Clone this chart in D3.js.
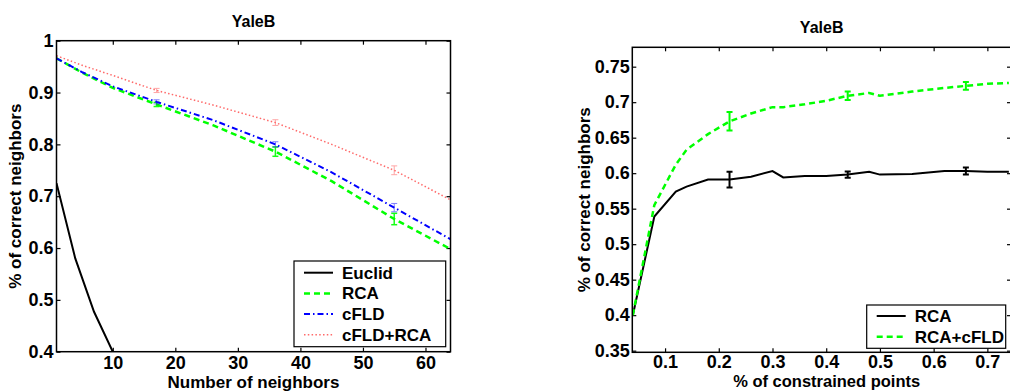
<!DOCTYPE html>
<html>
<head>
<meta charset="utf-8">
<script src="https://cdn.jsdelivr.net/npm/d3@7"></script>
<style>
  body { margin: 0; background: #fff; }
  text { font-family: "Liberation Sans", Arial, sans-serif; font-weight: bold; }
</style>
</head>
<body>
<svg id="chart" width="1010" height="391"></svg>
<script>
// left panel: accuracy vs number of neighbors
var nb_x      = [1, 5, 10, 17, 26, 36, 45, 55, 64];
var euclid_x  = [1, 4, 7, 10, 13];
var euclid_y  = [0.725, 0.58, 0.477, 0.40, 0.34];
var rca_y     = [0.966, 0.939, 0.909, 0.877, 0.837, 0.786, 0.729, 0.656, 0.598];
var cfld_y    = [0.966, 0.940, 0.912, 0.882, 0.847, 0.800, 0.746, 0.678, 0.617];
var both_y    = [0.971, 0.953, 0.933, 0.904, 0.876, 0.842, 0.800, 0.750, 0.693];
var err_x     = [17, 36, 55];
var rca_err   = [0.004, 0.009, 0.011];
var cfld_err  = [0.004, 0.005, 0.008];
var both_err  = [0.004, 0.0055, 0.0085];
var left_xticks = [10, 20, 30, 40, 50, 60];
var left_yticks = [0.4, 0.5, 0.6, 0.7, 0.8, 0.9, 1];

// right panel: accuracy vs fraction of constrained points
var cp_x      = [0.04, 0.08, 0.12, 0.14, 0.18, 0.22, 0.26, 0.30, 0.32, 0.36, 0.40, 0.44, 0.48, 0.50, 0.56, 0.62, 0.66, 0.70, 0.74];
var rca2_y    = [0.40, 0.539, 0.574, 0.581, 0.591, 0.591, 0.595, 0.603, 0.594, 0.596, 0.596, 0.598, 0.602, 0.598, 0.599, 0.603, 0.603, 0.602, 0.602];
var rcafld_y  = [0.40, 0.555, 0.612, 0.633, 0.655, 0.673, 0.684, 0.693, 0.693, 0.697, 0.702, 0.709, 0.713, 0.709, 0.715, 0.720, 0.723, 0.726, 0.727];
var err2_x    = [0.22, 0.44, 0.66];
var rca2_err  = [0.011, 0.0045, 0.005];
var rcafld_err = [0.013, 0.006, 0.0055];
var right_xticks = [0.1, 0.2, 0.3, 0.4, 0.5, 0.6, 0.7];
var right_yticks = [0.35, 0.4, 0.45, 0.5, 0.55, 0.6, 0.65, 0.7, 0.75];

var svg = d3.select('#chart');

var styles = {
  black: {color: '#000000', width: 2,   dash: null},
  green: {color: '#00ff00', width: 2.5, dash: '6,4'},
  blue:  {color: '#0000ff', width: 2,   dash: '6,3,1.5,3'},
  red:   {color: '#ff6a6a', width: 1.5, dash: '1.5,2.3'}
};

function fmt(v) { return String(+v.toFixed(2)); }

function panel(o) {
  var x = d3.scaleLinear().domain(o.xdom).range([o.left, o.right]);
  var y = d3.scaleLinear().domain(o.ydom).range([o.bottom, o.top]);
  var g = svg.append('g');

  var clipId = 'clip' + o.id;
  g.append('clipPath').attr('id', clipId)
    .append('rect')
      .attr('x', o.left).attr('y', o.top)
      .attr('width', o.right - o.left).attr('height', o.bottom - o.top);

  // ticks on all four sides, pointing inwards
  var ax = [
    [d3.axisBottom(x).tickValues(o.xticks).tickFormat(fmt).tickPadding(o.xpad), 'translate(0,' + o.bottom + ')'],
    [d3.axisTop(x).tickValues(o.xticks).tickFormat(''), 'translate(0,' + o.top + ')'],
    [d3.axisLeft(y).tickValues(o.yticks).tickFormat(fmt).tickPadding(o.ypad), 'translate(' + o.left + ',0)'],
    [d3.axisRight(y).tickValues(o.yticks).tickFormat(''), 'translate(' + o.right + ',0)']
  ];
  ax.forEach(function(a) {
    var ag = g.append('g').attr('transform', a[1])
      .call(a[0].tickSizeInner(-4).tickSizeOuter(0));
    ag.select('.domain').remove();
    ag.selectAll('line').attr('stroke', '#000').attr('stroke-width', 1.2);
    ag.selectAll('text').style('font-size', '18px').attr('fill', '#000')
      .style('font-family', '"Liberation Sans", Arial, sans-serif').style('font-weight', 'bold');
  });

  var line = d3.line().x(function(d) { return x(d[0]); }).y(function(d) { return y(d[1]); });
  var plot = g.append('g').attr('clip-path', 'url(#' + clipId + ')');

  o.series.forEach(function(s) {
    var st = styles[s.style];
    var pts = s.x.map(function(v, i) { return [v, s.y[i]]; });
    plot.append('path')
      .attr('d', line(pts))
      .attr('fill', 'none')
      .attr('stroke', st.color)
      .attr('stroke-width', st.width)
      .attr('stroke-dasharray', st.dash);

    if (s.ex) {
      s.ex.forEach(function(xv, i) {
        // centre of the bar
        var j = d3.bisectLeft(s.x, xv), yc;
        if (s.x[j] === xv) yc = s.y[j];
        else {
          var t = (xv - s.x[j - 1]) / (s.x[j] - s.x[j - 1]);
          yc = s.y[j - 1] + t * (s.y[j] - s.y[j - 1]);
        }
        var y1 = y(yc - s.e[i]), y2 = y(yc + s.e[i]), xp = x(xv);
        var eg = plot.append('g')
          .attr('stroke', st.color)
          .attr('stroke-width', s.ew)
          .attr('opacity', s.eo);
        eg.append('line').attr('x1', xp).attr('x2', xp).attr('y1', y1).attr('y2', y2);
        eg.append('line').attr('x1', xp - 3).attr('x2', xp + 3).attr('y1', y1).attr('y2', y1);
        eg.append('line').attr('x1', xp - 3).attr('x2', xp + 3).attr('y1', y2).attr('y2', y2);
      });
    }
  });

  g.append('rect')
    .attr('x', o.left).attr('y', o.top)
    .attr('width', o.right - o.left).attr('height', o.bottom - o.top)
    .attr('fill', 'none').attr('stroke', '#000').attr('stroke-width', 1.5);

  g.append('text')
    .attr('x', (o.left + o.right) / 2).attr('y', o.titleY)
    .attr('text-anchor', 'middle').style('font-size', '16px')
    .text(o.title);

  g.append('text')
    .attr('x', o.xlabX).attr('y', o.xlabY)
    .attr('text-anchor', 'middle').style('font-size', o.xlabSize)
    .text(o.xlabel);

  g.append('text')
    .attr('transform', 'translate(' + o.ylabX + ',' + ((o.top + o.bottom) / 2) + ') rotate(-90)')
    .attr('text-anchor', 'middle').style('font-size', '17px')
    .text(o.ylabel);

  // legend
  var lg = g.append('g');
  lg.append('rect')
    .attr('x', o.leg.x).attr('y', o.leg.y)
    .attr('width', o.leg.w).attr('height', o.leg.h)
    .attr('fill', '#fff').attr('stroke', '#000').attr('stroke-width', 1.2);
  o.series.forEach(function(s, i) {
    var st = styles[s.style];
    var yy = o.leg.y + o.leg.first + i * 20.7;
    lg.append('line')
      .attr('x1', o.leg.x + 10).attr('x2', o.leg.x + 39)
      .attr('y1', yy).attr('y2', yy)
      .attr('stroke', st.color).attr('stroke-width', st.width)
      .attr('stroke-dasharray', st.dash);
    lg.append('text')
      .attr('x', o.leg.x + 48).attr('y', yy + 6)
      .style('font-size', '17px')
      .text(s.name);
  });
}

panel({
  id: 'L', left: 56.5, right: 450.5, top: 40.7, bottom: 351.7,
  xdom: [1, 64], ydom: [0.4, 1],
  xticks: left_xticks, yticks: left_yticks, xpad: 5, ypad: 3,
  title: 'YaleB', titleY: 27,
  xlabel: 'Number of neighbors', xlabX: 253.5, xlabY: 388, xlabSize: '17px',
  ylabel: '% of correct neighbors', ylabX: 21,
  leg: {x: 294, y: 261, w: 151.7, h: 85.7, first: 11.7},
  series: [
    {name: 'Euclid', style: 'black', x: euclid_x, y: euclid_y},
    {name: 'RCA', style: 'green', x: nb_x, y: rca_y, ex: err_x, e: rca_err, ew: 1.5, eo: 0.9},
    {name: 'cFLD', style: 'blue', x: nb_x, y: cfld_y, ex: err_x, e: cfld_err, ew: 1, eo: 0.5},
    {name: 'cFLD+RCA', style: 'red', x: nb_x, y: both_y, ex: err_x, e: both_err, ew: 1, eo: 0.6}
  ]
});

panel({
  id: 'R', left: 632.3, right: 1011, top: 47.3, bottom: 352.3,
  xdom: [0.039, 0.744], ydom: [0.3477, 0.7773],
  xticks: right_xticks, yticks: right_yticks, xpad: 3, ypad: 2.5,
  title: 'YaleB', titleY: 33,
  xlabel: '% of constrained points', xlabX: 826.7, xlabY: 387, xlabSize: '16.5px',
  ylabel: '% of correct neighbors', ylabX: 589.5,
  leg: {x: 866.7, y: 305, w: 139, h: 43.3, first: 11},
  series: [
    {name: 'RCA', style: 'black', x: cp_x, y: rca2_y, ex: err2_x, e: rca2_err, ew: 2, eo: 1},
    {name: 'RCA+cFLD', style: 'green', x: cp_x, y: rcafld_y, ex: err2_x, e: rcafld_err, ew: 2, eo: 1}
  ]
});
</script>
</body>
</html>
